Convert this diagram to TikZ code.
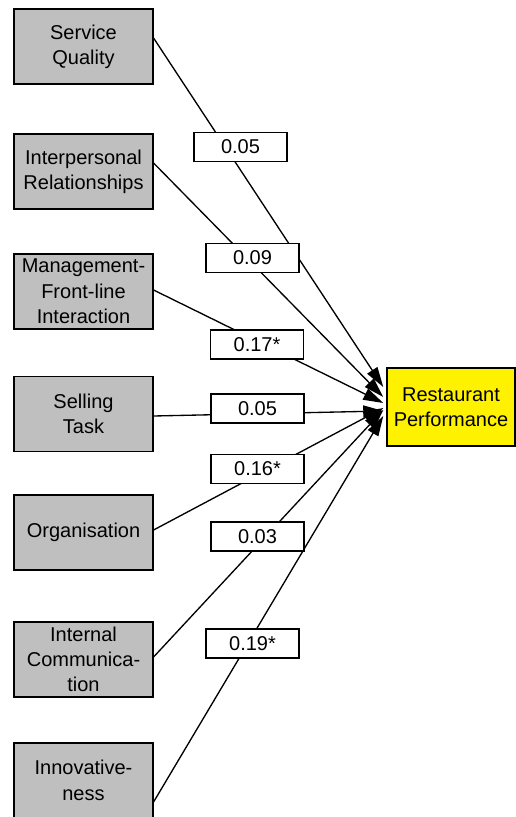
\documentclass[tikz,border=0pt]{standalone}
\usepackage{fontspec}
\setmainfont{Liberation Sans}
\usetikzlibrary{calc,arrows.meta}

\begin{document}
\begin{tikzpicture}[x=0.75pt,y=-0.75pt,
  factor/.style={draw,line width=1.1pt,fill=black!25,align=center,inner sep=1pt,
    minimum width=104pt,minimum height=56pt,font=\fontsize{15}{19}\selectfont},
  outcome/.style={draw,line width=1.1pt,fill=yellow,align=center,inner sep=1pt,
    minimum width=96pt,minimum height=58.5pt,font=\fontsize{15}{19}\selectfont},
  coef/.style={draw,line width=1pt,fill=white,inner sep=0pt,
    minimum width=69.75pt,minimum height=21.75pt,font=\fontsize{15}{18}\selectfont},
  link/.style={line width=1pt,-{Triangle[length=15pt,width=9pt]}}]
  \useasboundingbox (0,0) rectangle (516,817);
  \clip (0,0) rectangle (516,817);

  \node[factor] (sq)  at (83.5,46.5)  {Service\\Quality};
  \node[factor] (ir)  at (83.5,171.5) {Interpersonal\\Relationships};
  \node[factor] (mfi) at (83.5,291.5) {Management-\\Front-line\\Interaction};
  \node[factor] (st)  at (83.5,414)   {Selling\\Task};
  \node[factor] (org) at (83.5,532.5) {Organisation};
  \node[factor] (ic)  at (83.5,659.5) {Internal\\Communica-\\tion};
  \node[factor] (inn) at (83.5,780.5) {Innovative-\\ness};

  \node[outcome] (perf) at (451,407) {Restaurant\\Performance};

  \foreach \src/\sy/\ey in {sq/-8.5/-20, ir/-8.5/-10, mfi/-1.5/-4, st/2/4,
                            org/-2.5/1, ic/-2.5/3, inn/21.5/9} {
    \draw[link] ($(\src.east)+(0,\sy)$) -- ($(perf.west)+(-3,\ey)$);
  };

  \node[coef] (c1) at (240.5,147)   {0.05};
  \node[coef] (c2) at (252.5,258)   {0.09};
  \node[coef] (c3) at (257,344.5)   {0.17*};
  \node[coef] (c4) at (257.5,408.5) {0.05};
  \node[coef] (c5) at (257.5,469)   {0.16*};
  \node[coef] (c6) at (257.5,536.5) {0.03};
  \node[coef] (c7) at (252.5,643.5) {0.19*};
\end{tikzpicture}
\end{document}
